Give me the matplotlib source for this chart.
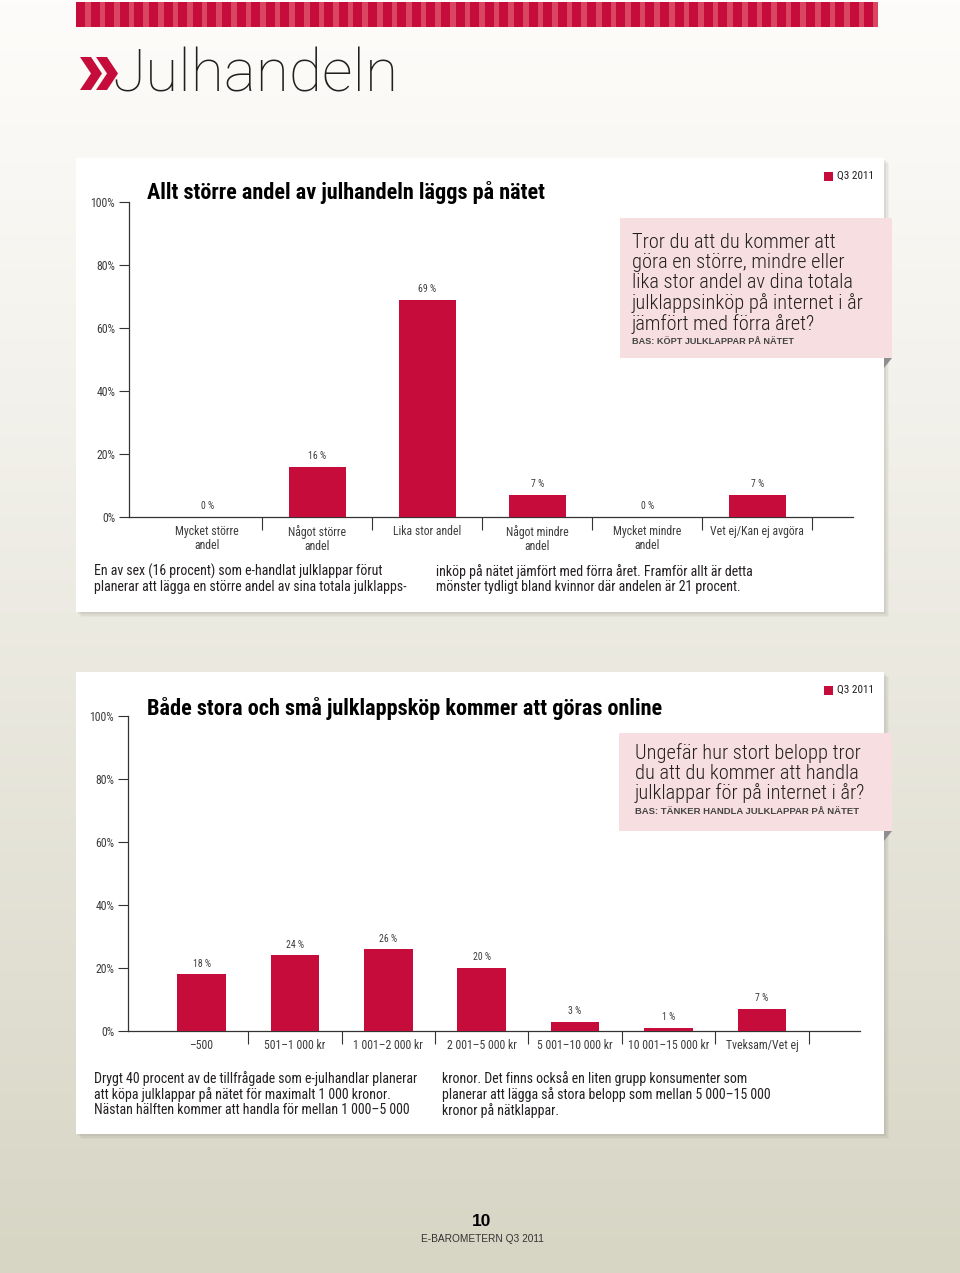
import numpy as np
import matplotlib
matplotlib.use("Agg")
import matplotlib.pyplot as plt
from matplotlib.patches import Rectangle, Polygon

W, H = 960, 1273
RED = '#c60c3a'
RED_LIGHT = '#da4562'
PINK = '#f7dfe1'
INK = '#231f20'
GREY = '#3c3c3c'
FONT = ['Roboto Condensed', 'Liberation Sans Narrow', 'Roboto', 'DejaVu Sans']
WIDE = ['Liberation Sans', 'DejaVu Sans']

# ---- data, diagram 1 ----
cats1 = ['Mycket större\nandel', 'Något större\nandel', 'Lika stor andel',
         'Något mindre\nandel', 'Mycket mindre\nandel', 'Vet ej/Kan ej avgöra']
vals1 = [0, 16, 69, 7, 0, 7]
labs1 = ['0 %', '16 %', '69 %', '7 %', '0 %', '7 %']

# ---- data, diagram 2 ----
cats2 = ['–500', '501–1 000 kr', '1 001–2 000 kr', '2 001–5 000 kr',
         '5 001–10 000 kr', '10 001–15 000 kr', 'Tveksam/Vet ej']
vals2 = [18, 24, 26, 20, 3, 1, 7]
labs2 = ['18 %', '24 %', '26 %', '20 %', '3 %', '1 %', '7 %']

yticks = [0, 20, 40, 60, 80, 100]
ytick_labels = ['0%', '20%', '40%', '60%', '80%', '100%']

plt.rcParams['font.family'] = FONT

fig = plt.figure(figsize=(W / 100, H / 100), dpi=100)

# bakgrund i pixelkoordinater
bg = fig.add_axes([0, 0, 1, 1], zorder=0)
bg.set_xlim(0, W)
bg.set_ylim(H, 0)
bg.axis('off')
top = np.array([253, 252, 250]) / 255
bot = np.array([215, 213, 196]) / 255
t = np.linspace(0, 1, 256)[:, None, None]
grad = top + (bot - top) * t ** 1.1
grad = np.repeat(grad, 2, axis=1)
bg.imshow(grad, extent=[0, W, H, 0], aspect='auto', zorder=0)

# randig list överst
bg.add_patch(Rectangle((76, 2), 802, 25, color=RED_LIGHT, lw=0, zorder=1))
for x0 in np.arange(76, 878, 14.6):
    bg.add_patch(Rectangle((x0, 2), 9, 25, color=RED, lw=0, zorder=1))

# rubrik
for dx in (0, 16):
    bg.add_patch(Polygon([(80 + dx, 57), (91 + dx, 57), (102 + dx, 73.5),
                          (91 + dx, 90), (80 + dx, 90), (91 + dx, 73.5)],
                         closed=True, color=RED, lw=0, zorder=2))
bg.text(112, 92, 'Julhandeln', fontsize=43.5, fontweight=100, color=INK,
        family=['Roboto', 'DejaVu Sans'], ha='left', va='baseline', zorder=2)


def card(y0, y1):
    for i, a in enumerate([0.05, 0.07, 0.10]):
        off = 5 - i * 1.5
        bg.add_patch(Rectangle((76 + off, y0 + off), 808, y1 - y0, color='#6d6a5e',
                               alpha=a, lw=0, zorder=1))
    bg.add_patch(Rectangle((76, y0), 808, y1 - y0, color='white', lw=0, zorder=2))


def pinkbox(x0, y0, x1, y1):
    bg.add_patch(Rectangle((x0, y0), x1 - x0, y1 - y0, color=PINK, lw=0, zorder=3))
    bg.add_patch(Polygon([(x1 - 8, y1), (x1, y1), (x1 - 8, y1 + 10)], closed=True,
                         color='#8e8e8e', lw=0, zorder=3))


def legend(y):
    bg.add_patch(Rectangle((824, y - 4.5), 9, 9, color=RED, lw=0, zorder=3))
    bg.text(837, y, 'Q3 2011', fontsize=8, color=INK, ha='left', va='center', zorder=3)


card(158, 612)
card(672, 1134)

# diagram 1, texter
bg.text(147, 193, 'Allt större andel av julhandeln läggs på nätet', fontsize=16,
        fontweight='bold', color='black', ha='left', va='center', zorder=3)
legend(176)
pinkbox(620, 218, 892, 358)
bg.text(632, 233, 'Tror du att du kommer att\ngöra en större, mindre eller\n'
        'lika stor andel av dina totala\njulklappsinköp på internet i år\n'
        'jämfört med förra året?', fontsize=14.7, fontweight='light', color=INK,
        ha='left', va='top', linespacing=1.06, zorder=4)
bg.text(632, 341, 'BAS: KÖPT JULKLAPPAR PÅ NÄTET', fontsize=6.6, fontweight='bold',
        family=WIDE, color='#444444', ha='left', va='center', zorder=4)
bg.text(94, 564, 'En av sex (16 procent) som e-handlat julklappar förut\n'
        'planerar att lägga en större andel av sina totala julklapps-',
        fontsize=10, color=INK, ha='left', va='top', linespacing=1.1, zorder=3)
bg.text(436, 564, 'inköp på nätet jämfört med förra året. Framför allt är detta\n'
        'mönster tydligt bland kvinnor där andelen är 21 procent.',
        fontsize=10, color=INK, ha='left', va='top', linespacing=1.1, zorder=3)

# diagram 2, texter
bg.text(147, 708, 'Både stora och små julklappsköp kommer att göras online', fontsize=16,
        fontweight='bold', color='black', ha='left', va='center', zorder=3)
legend(690)
pinkbox(619, 733, 892, 831)
bg.text(635, 743, 'Ungefär hur stort belopp tror\ndu att du kommer att handla\n'
        'julklappar för på internet i år?', fontsize=14.7, fontweight='light',
        color=INK, ha='left', va='top', linespacing=1.05, zorder=4)
bg.text(635, 812, 'BAS: TÄNKER HANDLA JULKLAPPAR PÅ NÄTET', fontsize=6.8,
        fontweight='bold', family=WIDE, color='#444444', ha='left', va='center',
        zorder=4)
bg.text(94, 1071, 'Drygt 40 procent av de tillfrågade som e-julhandlar planerar\n'
        'att köpa julklappar på nätet för maximalt 1 000 kronor.\n'
        'Nästan hälften kommer att handla för mellan 1 000–5 000',
        fontsize=10, color=INK, ha='left', va='top', linespacing=1.1, zorder=3)
bg.text(442, 1071, 'kronor. Det finns också en liten grupp konsumenter som\n'
        'planerar att lägga så stora belopp som mellan 5 000–15 000\n'
        'kronor på nätklappar.',
        fontsize=10, color=INK, ha='left', va='top', linespacing=1.1, zorder=3)

# sidfot
bg.text(482, 1222, '10', fontsize=12.5, fontweight='heavy', color='black',
        family=WIDE, ha='center', va='center', zorder=3)
bg.text(482, 1239, 'E-BAROMETERN Q3 2011', fontsize=7.3, color='#333333',
        family=WIDE, ha='center', va='center', zorder=3)


def bar_chart(rect, cats, vals, labs, xlim):
    ax = fig.add_axes(rect, zorder=2)
    ax.patch.set_visible(False)
    x = np.arange(len(cats))
    bars = ax.bar(x, vals, width=0.52, color=RED, zorder=3)
    ax.set_xlim(*xlim)
    ax.set_ylim(0, 100)
    ax.set_yticks(yticks)
    ax.set_yticklabels(ytick_labels)
    ax.set_xticks(x)
    ax.set_xticklabels(cats, linespacing=1.05)
    ax.set_xticks(x + 0.5, minor=True)
    ax.tick_params(axis='x', which='major', length=0, pad=6, labelsize=8.5,
                   labelcolor=GREY)
    ax.tick_params(axis='x', which='minor', length=9, width=0.8, color='#333333',
                   direction='out')
    ax.tick_params(axis='y', length=7, width=0.8, color='#333333', pad=3,
                   labelsize=8.5, labelcolor=GREY)
    for s in ('top', 'right'):
        ax.spines[s].set_visible(False)
    for s in ('left', 'bottom'):
        ax.spines[s].set_color('#333333')
        ax.spines[s].set_linewidth(0.9)
    for b, lab in zip(bars, labs):
        ax.annotate(lab, (b.get_x() + b.get_width() / 2, b.get_height()),
                    xytext=(0, 4), textcoords='offset points', ha='center',
                    va='bottom', fontsize=7, color=GREY)
    return ax


bar_chart([129 / W, 1 - 517 / H, (853 - 129) / W, 315 / H], cats1, vals1, labs1,
          (-0.71, 5.87))
bar_chart([128 / W, 1 - 1031 / H, (860 - 128) / W, 315 / H], cats2, vals2, labs2,
          (-0.787, 7.05))

fig.savefig('out.png', dpi=100)
